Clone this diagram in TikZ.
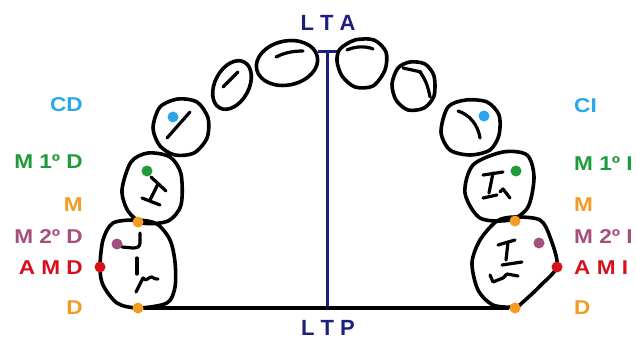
\documentclass[tikz,border=0pt]{standalone}
\usepackage{fontspec}
\setmainfont{Liberation Sans}
\definecolor{cblue}{HTML}{2AA7E8}
\definecolor{cgreen}{HTML}{1E9B3A}
\definecolor{corange}{HTML}{F39B22}
\definecolor{cpurple}{HTML}{A4507F}
\definecolor{cred}{HTML}{D7101E}
\definecolor{cnavy}{HTML}{1D1D82}
\begin{document}
\begin{tikzpicture}[x=1pt,y=-1pt,
  tooth/.style={line width=3.6pt, line join=round, line cap=round},
  toothmark/.style={line width=3.2pt, line cap=round, line join=round},
  dot/.style={circle, fill=#1, inner sep=0pt, minimum size=11pt},
  lab/.style={font=\fontsize{20}{20}\selectfont\bfseries, text=#1, inner sep=0pt},
  axis/.style={cnavy, line width=3pt},
  axlab/.style={font=\fontsize{22}{22}\selectfont\bfseries, text=cnavy, inner sep=0pt}
]
\useasboundingbox[fill=white] (0,0) rectangle (636,339);

% ---- midline
\coordinate (ltaL) at (318,52);
\coordinate (ltaR) at (339,52);
\coordinate (lta) at (327,52);
\coordinate (ltp) at (327,308);
\draw[axis] (ltaL) -- (ltaR);
\draw[axis] (lta) -- (ltp);
\node[axlab] (tLTA) at (328,23) {L T A};
\node[axlab] (tLTP) at (328,328) {L T P};

% ---- central incisors
\draw[tooth, rotate around={12:(287,63)}] (287,63) ellipse [x radius=31, y radius=22];
\draw[toothmark] (276,57) .. controls (286,52) and (295,51) .. (303,51);
\draw[tooth] plot[smooth cycle] coordinates {(340,49) (355,40) (374,40) (386,52) (385,70) (373,86) (355,87) (342,76) (337,61)};
\draw[toothmark] (347,50) .. controls (356,46) and (366,46) .. (373,49);

% ---- lateral incisors
\draw[tooth, rotate around={-28:(232,85)}] (232,85) ellipse [x radius=17, y radius=26];
\draw[toothmark] (223,87) -- (238,72);
\draw[tooth] plot[smooth cycle] coordinates {(398,68) (410,62) (425,64) (434,76) (434,96) (424,108) (408,110) (396,100) (392,84)};
\draw[toothmark] (403,68) -- (421,72);
\draw[toothmark] (419,71) .. controls (425,78) and (428,86) .. (430,97);

% ---- canines
\draw[tooth] plot[smooth cycle] coordinates {(160,107) (178,99) (197,102) (208,118) (207,138) (194,153) (175,155) (160,146) (153,128)};
\draw[toothmark] (167,138) -- (190,112);
\node[dot=cblue] (bL) at (173,117) {};
\draw[tooth] plot[smooth cycle] coordinates {(448,107) (466,100) (487,102) (499,115) (499,135) (490,150) (470,155) (450,150) (441,132)};
\draw[toothmark] (458,111) .. controls (470,115) and (478,125) .. (480,138);
\node[dot=cblue] (bR) at (484,116) {};

% ---- first molars
\draw[tooth] plot[smooth cycle] coordinates {(131,162) (148,153) (170,157) (181,174) (181,205) (168,221) (143,223) (128,211) (122,190)};
\draw[toothmark] (151,177) -- (166,191);
\draw[toothmark] (158,184) -- (150,200);
\draw[toothmark] (142,198) -- (160,205);
\node[dot=cgreen] (gL) at (147,171) {};
\draw[tooth] plot[smooth cycle] coordinates {(473,165) (503,152) (527,155) (534,177) (528,207) (510,220) (480,218) (465,193)};
\draw[toothmark] (483,175) -- (503,172);
\draw[toothmark] (493,173) -- (489,193);
\draw[toothmark] (483,198) -- (497,195);
\draw[toothmark] (500,192) -- (503,189) -- (510,198);
\node[dot=cgreen] (gR) at (516,171) {};

% ---- second molars
\draw[tooth] plot[smooth cycle] coordinates {(113,223) (137,220) (157,224) (170,240) (175,262) (175,287) (167,303) (138,308) (117,303) (103,285) (100,267) (103,240)};
\draw[toothmark] (140,233) -- (140,243) .. controls (140,247) and (137,248) .. (133,248) -- (122,247);
\draw[toothmark] (137,258) -- (137,274);
\draw[toothmark] (136,292) -- (143,278) .. controls (146,283) and (149,276) .. (152,277) .. controls (154,278) and (156,280) .. (158,279);
\draw[tooth] plot[smooth cycle] coordinates {(497,221) (515,217) (540,220) (550,237) (557,266) (540,286) (523,302) (515,307) (493,305) (478,290) (472,263) (480,240)};
\draw[toothmark] (498,245) -- (515,240);
\draw[toothmark] (508,242) -- (506,260);
\draw[toothmark] (502,265) -- (522,262);
\draw[toothmark] (490,275) -- (493,282) -- (503,278) -- (507,274) -- (518,276);

% ---- reference points
\node[dot=corange] (oLt) at (138,222) {};
\node[dot=corange] (oLb) at (138,308) {};
\node[dot=corange] (oRt) at (515,221) {};
\node[dot=corange] (oRb) at (515,308) {};
\node[dot=cpurple] (pL) at (117,244) {};
\node[dot=cpurple] (pR) at (539,243) {};
\node[dot=cred] (rL) at (100,267) {};
\node[dot=cred] (rR) at (557,267) {};
\draw[line width=3.4pt] (oLb) -- (oRb);

% ---- labels left
\node[lab=cblue, anchor=east] (lCD) at (83,105) {\scalebox{1.13}[1]{CD}};
\node[lab=cgreen, anchor=east] (lM1) at (83,162) {\scalebox{1.13}[1]{M 1º D}};
\node[lab=corange, anchor=east] (lM) at (83,205) {\scalebox{1.13}[1]{M}};
\node[lab=cpurple, anchor=east] (lM2) at (83,237) {\scalebox{1.13}[1]{M 2º D}};
\node[lab=cred, anchor=east] (lAMD) at (83,268) {\scalebox{1.13}[1]{A M D}};
\node[lab=corange, anchor=east] (lD) at (83,308) {\scalebox{1.13}[1]{D}};
% ---- labels right
\node[lab=cblue, anchor=west] (rCI) at (574,106) {\scalebox{1.13}[1]{CI}};
\node[lab=cgreen, anchor=west] (rM1) at (574,164) {\scalebox{1.13}[1]{M 1º I}};
\node[lab=corange, anchor=west] (rM) at (574,205) {\scalebox{1.13}[1]{M}};
\node[lab=cpurple, anchor=west] (rM2) at (574,237) {\scalebox{1.13}[1]{M 2º I}};
\node[lab=cred, anchor=west] (rAMI) at (574,268) {\scalebox{1.13}[1]{A M I}};
\node[lab=corange, anchor=west] (rD) at (574,308) {\scalebox{1.13}[1]{D}};
\end{tikzpicture}
\end{document}
